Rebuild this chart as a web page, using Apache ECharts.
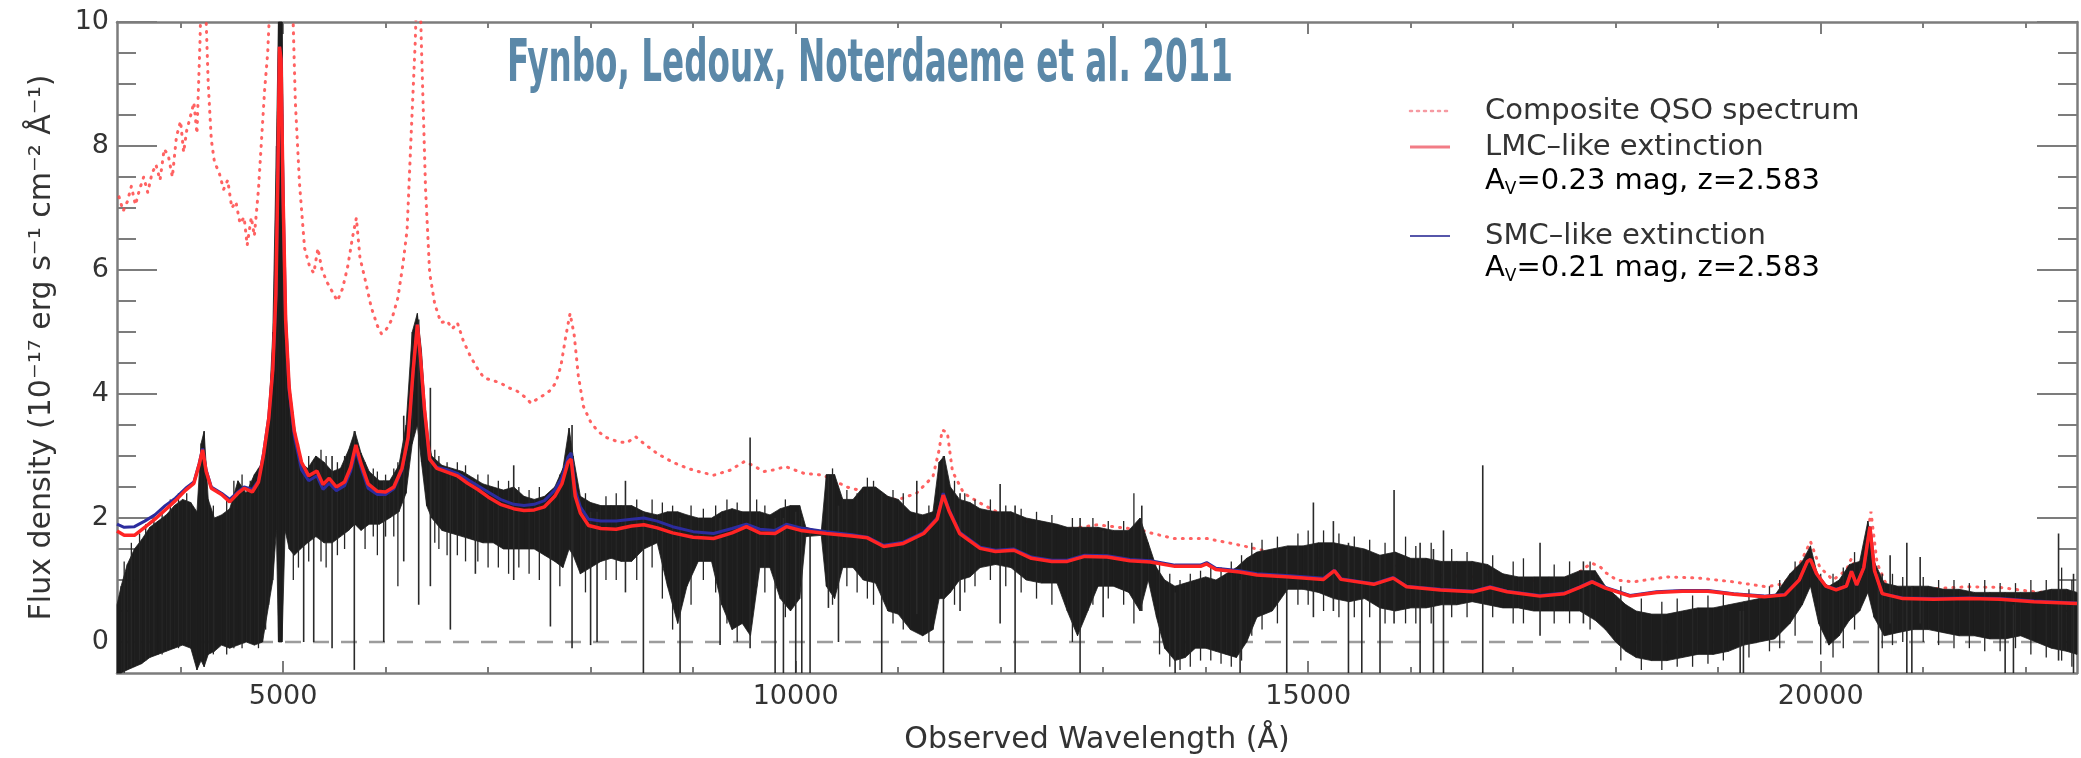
<!DOCTYPE html>
<html>
<head>
<meta charset="utf-8">
<script src="https://cdn.jsdelivr.net/npm/echarts@6/dist/echarts.min.js"></script>
<style>
  html, body { margin: 0; padding: 0; background: #ffffff; }
  #chart { width: 2081px; height: 758px; }
</style>
</head>
<body>
<div id="chart"></div>
<script>
// ---- axis ranges and ticks ----
const xMin = 3380, xMax = 22500;
const yMin = -0.5, yMax = 10;
const xMajorTicks = [5000, 10000, 15000, 20000];
const xMinorTicks = [4000, 6000, 7000, 8000, 9000, 11000, 12000, 13000, 14000, 16000, 17000, 18000, 19000, 21000, 22000];
const yMajorTicks = [0, 2, 4, 6, 8, 10];
const yMinorTicks = [0.5, 1, 1.5, 2.5, 3, 3.5, 4.5, 5, 5.5, 6.5, 7, 7.5, 8.5, 9, 9.5];

// ---- observed spectrum: envelope of the noisy flux (lower / upper edge) ----
const specWave = [3380, 3420, 3480, 3550, 3620, 3700, 3780, 3860, 3940, 4020, 4100, 4160, 4200, 4230, 4270, 4330, 4400, 4480, 4560, 4640, 4720, 4800, 4860, 4900, 4935, 4955, 4990, 5020, 5060, 5110, 5170, 5240, 5320, 5400, 5480, 5560, 5640, 5700, 5760, 5840, 5940, 6040, 6130, 6200, 6260, 6310, 6350, 6400, 6450, 6550, 6650, 6750, 6850, 6950, 7050, 7150, 7250, 7350, 7450, 7550, 7650, 7730, 7790, 7830, 7900, 8000, 8100, 8200, 8300, 8400, 8520, 8650, 8750, 8850, 8940, 9050, 9180, 9280, 9380, 9480, 9560, 9650, 9750, 9850, 9950, 10040, 10100, 10250, 10300, 10380, 10460, 10560, 10660, 10780, 10900, 11000, 11120, 11240, 11340, 11400, 11450, 11510, 11600, 11700, 11800, 11950, 12100, 12250, 12400, 12550, 12650, 12750, 12850, 12950, 13100, 13250, 13360, 13440, 13520, 13600, 13700, 13800, 13900, 14000, 14100, 14200, 14300, 14400, 14500, 14650, 14800, 14950, 15100, 15250, 15400, 15550, 15700, 15850, 16000, 16150, 16300, 16450, 16600, 16750, 16900, 17050, 17200, 17350, 17500, 17650, 17800, 17900, 18000, 18100, 18200, 18350, 18500, 18650, 18800, 18950, 19100, 19250, 19400, 19550, 19700, 19820, 19900, 19980, 20080, 20180, 20280, 20380, 20460, 20520, 20620, 20750, 20900, 21050, 21200, 21350, 21500, 21650, 21800, 21950, 22100, 22250, 22400, 22500];
const specLow = [-0.5, -0.5, -0.45, -0.4, -0.35, -0.25, -0.2, -0.15, -0.1, -0.05, -0.1, -0.45, -0.3, -0.4, -0.2, -0.15, -0.05, -0.1, -0.05, 0.0, -0.05, 0.0, 0.6, 1.0, 1.8, 0.0, 0.0, 1.8, 1.5, 1.4, 1.5, 1.6, 1.7, 1.6, 1.6, 1.7, 1.8, 1.9, 1.8, 1.9, 1.9, 2.0, 2.1, 2.4, 3.2, 3.5, 2.9, 2.2, 2.0, 1.8, 1.75, 1.7, 1.65, 1.6, 1.6, 1.5, 1.5, 1.5, 1.5, 1.4, 1.3, 1.2, 1.5, 1.4, 1.1, 1.2, 1.3, 1.35, 1.3, 1.3, 1.5, 1.6, 0.9, 0.3, 0.9, 1.3, 1.3, 0.6, 0.2, 0.3, 0.1, 1.2, 1.2, 0.7, 0.5, 0.7, 1.7, 1.72, 0.9, 0.7, 1.2, 1.2, 1.0, 0.95, 0.5, 0.45, 0.2, 0.1, 0.2, 0.7, 0.7, 0.8, 1.0, 1.05, 1.2, 1.25, 1.2, 1.0, 0.95, 0.95, 0.5, 0.1, 0.5, 0.9, 0.9, 0.8, 0.5, 1.0, 0.4, -0.1, -0.3, -0.25, -0.1, -0.1, -0.15, -0.2, -0.25, 0.0, 0.4, 0.5, 0.85, 0.85, 0.8, 0.7, 0.65, 0.7, 0.55, 0.5, 0.55, 0.55, 0.6, 0.6, 0.65, 0.6, 0.55, 0.55, 0.5, 0.5, 0.5, 0.5, 0.35, 0.2, 0.0, -0.15, -0.25, -0.3, -0.3, -0.25, -0.2, -0.2, -0.15, -0.05, 0.0, 0.05, 0.3, 0.6, 0.9, 0.3, -0.05, 0.1, 0.35, 0.5, 0.8, 0.4, 0.1, 0.15, 0.2, 0.2, 0.15, 0.1, 0.1, 0.05, 0.05, 0.1, 0.0, -0.1, -0.15, -0.2];
const specHigh = [0.6, 0.9, 1.25, 1.5, 1.65, 1.85, 1.95, 2.05, 2.2, 2.3, 2.25, 2.1, 3.2, 3.4, 2.3, 2.0, 2.05, 2.15, 2.6, 2.4, 2.7, 2.9, 3.6, 5.0, 8.0, 10, 10, 5.4, 4.2, 3.5, 2.9, 2.8, 3.0, 2.9, 2.75, 2.8, 3.1, 3.4, 3.05, 2.75, 2.6, 2.6, 2.85, 3.5, 5.0, 5.3, 4.7, 3.4, 3.0, 2.85, 2.8, 2.75, 2.65, 2.55, 2.5, 2.45, 2.5, 2.35, 2.3, 2.35, 2.5, 2.8, 3.45, 3.0, 2.35, 2.25, 2.2, 2.2, 2.2, 2.2, 2.1, 2.05, 2.1, 2.1, 2.05, 2.0, 2.0, 2.1, 2.15, 2.1, 2.1, 2.1, 2.05, 2.15, 2.2, 2.2, 1.85, 1.78, 2.7, 2.7, 2.3, 2.3, 2.5, 2.5, 2.35, 2.3, 2.1, 2.05, 2.1, 2.9, 3.0, 2.5, 2.3, 2.25, 2.15, 2.1, 2.1, 2.0, 1.95, 1.9, 1.85, 1.85, 1.85, 1.85, 1.8, 1.8, 2.0, 1.6, 1.2, 1.0, 0.9, 0.95, 1.0, 1.05, 1.0, 1.1, 1.2, 1.35, 1.45, 1.5, 1.55, 1.55, 1.6, 1.6, 1.55, 1.5, 1.4, 1.45, 1.35, 1.35, 1.3, 1.3, 1.3, 1.25, 1.1, 1.05, 1.05, 1.05, 1.05, 1.15, 1.15, 0.9, 0.75, 0.6, 0.5, 0.45, 0.45, 0.5, 0.55, 0.55, 0.6, 0.65, 0.7, 0.75, 1.1, 1.3, 1.55, 1.0, 0.9, 1.0, 1.25, 1.3, 1.95, 1.3, 0.95, 0.9, 0.9, 0.9, 0.85, 0.85, 0.8, 0.8, 0.8, 0.8, 0.8, 0.85, 0.85, 0.8];

// ---- strong single-pixel excursions and absorption lines: wavelength, lower end, upper end ----
const lineWave = [5201, 5299, 5478, 5695, 5982, 6177, 6323, 6437, 6632, 6876, 7250, 7608, 7819, 8000, 8063, 8340, 8515, 8873, 9263, 9556, 9800, 9881, 10001, 10060, 10141, 10320, 10418, 10840, 11182, 11442, 11604, 11995, 12141, 12775, 13000, 13377, 13702, 14336, 14791, 15051, 15246, 15393, 15523, 15701, 15838, 16092, 16222, 16320, 16703, 17262, 17685, 19214, 19246, 20563, 20677, 20840, 20889, 20970, 21799, 21880, 22320, 22466];
const lineLow = [0.0, 0.0, -0.1, -0.45, 0.0, 1.3, 0.6, 0.9, 0.2, 1.1, 1.0, 0.25, -0.1, -0.05, 0.0, 0.8, -0.5, -0.5, -0.05, -0.1, -0.5, -0.5, -0.5, -0.5, -0.5, 0.55, 0.0, -0.5, 0.45, -0.5, 0.5, 0.3, -0.5, -0.5, 0.4, 0.5, -0.5, -0.5, -0.5, 0.4, 0.5, -0.5, -0.5, -0.5, 0.3, -0.5, -0.5, -0.5, -0.5, 0.1, 0.3, -0.5, -0.5, -0.5, 0.3, -0.5, -0.5, 0.3, -0.5, -0.5, -0.3, -0.5];
const lineHigh = [2.8, 2.9, 3.0, 3.4, 2.6, 3.65, 5.2, 4.1, 2.8, 2.6, 2.85, 2.3, 3.5, 2.1, 2.1, 2.6, 2.1, 2.0, 2.0, 3.3, 2.0, 2.0, 2.1, 2.0, 1.8, 2.7, 2.2, 2.4, 2.6, 3.0, 2.4, 2.55, 2.2, 2.0, 1.8, 2.2, 0.8, 1.0, 1.5, 2.25, 1.95, 1.6, 1.5, 1.4, 2.45, 1.6, 1.5, 1.8, 2.85, 1.6, 1.3, 0.5, 0.5, 1.1, 1.4, 1.6, 0.9, 1.37, 0.7, 0.6, 1.75, 1.1];

// ---- weaker pixel scatter along the envelope edges ----
const hairWave = [3450, 3520, 3600, 3660, 3740, 3820, 3900, 3980, 4060, 4320, 4450, 4520, 4600, 4680, 4760, 4830, 5100, 5150, 5250, 5370, 5420, 5530, 5600, 5800, 5880, 5920, 6000, 6080, 6120, 6480, 6520, 6600, 6700, 6780, 6900, 7000, 7100, 7200, 7300, 7400, 7500, 7700, 7950, 8150, 8250, 8450, 8600, 8700, 8800, 8980, 9100, 9220, 9330, 9430, 9620, 9700, 9900, 10360, 10500, 10600, 10700, 10760, 10950, 11050, 11300, 11550, 11650, 11750, 11900, 12050, 12200, 12350, 12500, 12700, 12900, 13050, 13200, 13300, 13550, 13650, 13750, 13850, 13950, 14050, 14150, 14250, 14350, 14450, 14550, 14700, 14900, 15000, 15150, 15300, 15450, 15600, 15750, 15950, 16050, 16200, 16400, 16550, 16800, 17000, 17100, 17400, 17550, 17750, 18050, 18250, 18450, 18600, 18750, 18900, 19050, 19300, 19500, 19600, 19750, 20000, 20120, 20220, 20330, 20600, 20700, 20800, 21000, 21150, 21300, 21450, 21600, 21750, 21900, 22050, 22200, 22350, 22450];
const hairLow = [-0.5, -0.4, -0.3, -0.3, -0.2, -0.2, -0.1, -0.1, 0.0, -0.2, -0.2, -0.1, -0.1, 0.0, -0.1, 0.2, 1.0, 1.2, 1.3, 1.3, 1.2, 1.4, 1.5, 1.5, 1.7, 1.4, 1.7, 1.7, 0.9, 1.6, 1.5, 1.4, 1.4, 1.3, 1.3, 1.2, 1.2, 1.1, 1.2, 1.1, 1.0, 0.9, 0.8, 1.0, 1.0, 1.0, 1.2, 0.7, 0.2, 0.6, 1.0, 0.8, 0.3, 0.0, 0.9, 0.8, 0.4, 0.6, 0.9, 0.8, 0.7, 0.6, 0.3, 0.2, 0.0, 0.6, 0.8, 0.9, 1.0, 0.9, 0.8, 0.7, 0.6, 0.0, 0.6, 0.7, 0.6, 0.3, -0.2, -0.4, -0.45, -0.4, -0.3, -0.3, -0.35, -0.4, -0.3, 0.1, 0.2, 0.3, 0.6, 0.6, 0.5, 0.4, 0.4, 0.4, 0.3, 0.3, 0.3, 0.3, 0.4, 0.4, 0.4, 0.3, 0.3, 0.3, 0.3, 0.2, -0.3, -0.45, -0.45, -0.4, -0.4, -0.35, -0.3, -0.25, -0.15, -0.1, 0.1, -0.2, -0.25, -0.1, 0.2, -0.1, -0.05, 0.0, 0.0, -0.05, -0.1, -0.1, -0.15, -0.15, -0.1, -0.2, -0.25, -0.3, -0.4];
const hairHigh = [1.3, 1.6, 1.75, 1.9, 2.0, 2.1, 2.3, 2.4, 2.4, 2.2, 2.3, 2.6, 2.7, 2.6, 2.8, 3.0, 3.7, 3.2, 3.0, 3.1, 3.0, 2.9, 3.0, 2.9, 2.8, 2.75, 2.7, 2.8, 2.9, 3.1, 3.0, 2.9, 2.9, 2.85, 2.7, 2.7, 2.6, 2.6, 2.5, 2.45, 2.5, 2.7, 2.4, 2.35, 2.4, 2.3, 2.3, 2.25, 2.2, 2.2, 2.15, 2.2, 2.3, 2.25, 2.3, 2.2, 2.3, 2.8, 2.45, 2.4, 2.65, 2.6, 2.45, 2.4, 2.2, 2.6, 2.4, 2.3, 2.3, 2.2, 2.15, 2.1, 2.05, 2.0, 2.0, 1.95, 1.95, 2.4, 1.3, 1.1, 1.0, 1.1, 1.15, 1.2, 1.2, 1.3, 1.4, 1.6, 1.65, 1.7, 1.75, 1.8, 1.8, 1.75, 1.7, 1.65, 1.6, 1.7, 1.55, 1.6, 1.5, 1.45, 1.4, 1.3, 1.35, 1.25, 1.3, 1.3, 0.9, 0.7, 0.65, 0.7, 0.75, 0.75, 0.8, 0.85, 0.9, 1.0, 1.3, 1.1, 1.1, 1.2, 1.45, 1.1, 1.1, 1.05, 1.05, 1.0, 1.0, 0.95, 1.0, 0.95, 0.95, 1.0, 1.0, 1.2, 1.0];

// ---- extinguished composite models (LMC and SMC curves share a grid) ----
const modelWave = [3380, 3450, 3550, 3650, 3750, 3850, 3950, 4050, 4130, 4180, 4215, 4250, 4300, 4400, 4480, 4560, 4620, 4700, 4760, 4810, 4860, 4900, 4930, 4950, 4965, 4980, 5000, 5025, 5060, 5110, 5180, 5250, 5330, 5390, 5450, 5520, 5600, 5660, 5710, 5760, 5830, 5920, 6000, 6080, 6160, 6220, 6270, 6310, 6340, 6380, 6430, 6500, 6600, 6700, 6800, 6900, 7000, 7120, 7250, 7350, 7450, 7550, 7650, 7720, 7780, 7810, 7850, 7900, 7980, 8100, 8250, 8400, 8520, 8650, 8800, 9000, 9200, 9380, 9520, 9650, 9800, 9910, 10050, 10300, 10550, 10700, 10860, 11050, 11250, 11380, 11440, 11500, 11600, 11800, 11950, 12130, 12300, 12500, 12650, 12820, 13040, 13260, 13460, 13700, 13950, 14010, 14100, 14330, 14500, 14820, 15150, 15256, 15320, 15640, 15830, 15960, 16290, 16610, 16775, 16940, 17260, 17500, 17650, 17770, 17900, 18140, 18400, 18650, 18900, 19150, 19450, 19650, 19790, 19870, 19900, 19960, 20050, 20150, 20250, 20300, 20350, 20420, 20480, 20525, 20600, 20800, 21100, 21450, 21750, 22080, 22500];
const lmcFlux = [1.79, 1.72, 1.72, 1.85, 1.98, 2.13, 2.28, 2.45, 2.56, 2.85, 3.10, 2.75, 2.48, 2.38, 2.26, 2.40, 2.48, 2.42, 2.58, 3.02, 3.60, 4.40, 5.60, 7.60, 9.60, 9.40, 7.20, 5.20, 4.10, 3.40, 2.90, 2.68, 2.76, 2.54, 2.64, 2.50, 2.58, 2.82, 3.18, 2.88, 2.55, 2.43, 2.42, 2.50, 2.80, 3.30, 4.40, 5.12, 4.60, 3.75, 2.95, 2.80, 2.74, 2.68, 2.56, 2.46, 2.34, 2.22, 2.15, 2.12, 2.13, 2.18, 2.35, 2.55, 2.90, 2.95, 2.35, 2.08, 1.88, 1.83, 1.82, 1.87, 1.89, 1.84, 1.76, 1.69, 1.67, 1.76, 1.86, 1.76, 1.75, 1.86, 1.80, 1.75, 1.71, 1.68, 1.54, 1.59, 1.75, 1.98, 2.37, 2.10, 1.75, 1.51, 1.46, 1.48, 1.35, 1.30, 1.30, 1.38, 1.37, 1.31, 1.29, 1.22, 1.22, 1.26, 1.17, 1.13, 1.08, 1.05, 1.01, 1.15, 1.01, 0.93, 1.03, 0.89, 0.84, 0.81, 0.88, 0.81, 0.74, 0.78, 0.88, 0.97, 0.87, 0.74, 0.80, 0.82, 0.82, 0.77, 0.73, 0.76, 1.00, 1.30, 1.33, 1.10, 0.90, 0.84, 0.90, 1.14, 0.92, 1.20, 1.86, 1.15, 0.78, 0.70, 0.69, 0.70, 0.69, 0.65, 0.62];
const smcFlux = [1.90, 1.85, 1.86, 1.95, 2.05, 2.20, 2.32, 2.48, 2.58, 2.87, 3.12, 2.77, 2.50, 2.40, 2.30, 2.42, 2.50, 2.46, 2.60, 3.05, 3.62, 4.40, 5.60, 7.60, 9.60, 9.40, 7.20, 5.20, 4.05, 3.32, 2.78, 2.60, 2.68, 2.46, 2.56, 2.44, 2.52, 2.76, 3.10, 2.82, 2.48, 2.38, 2.38, 2.47, 2.78, 3.28, 4.40, 5.12, 4.58, 3.74, 2.95, 2.82, 2.78, 2.72, 2.62, 2.52, 2.42, 2.30, 2.22, 2.20, 2.22, 2.28, 2.45, 2.65, 2.98, 3.05, 2.45, 2.18, 1.98, 1.95, 1.95, 1.98, 2.00, 1.95, 1.86, 1.78, 1.75, 1.83, 1.90, 1.82, 1.80, 1.90, 1.84, 1.78, 1.73, 1.69, 1.56, 1.61, 1.77, 2.00, 2.40, 2.12, 1.77, 1.53, 1.48, 1.50, 1.37, 1.32, 1.32, 1.40, 1.39, 1.33, 1.31, 1.24, 1.24, 1.28, 1.19, 1.15, 1.10, 1.07, 1.03, 1.16, 1.02, 0.94, 1.04, 0.90, 0.85, 0.82, 0.89, 0.82, 0.75, 0.79, 0.89, 0.98, 0.88, 0.75, 0.81, 0.83, 0.83, 0.78, 0.74, 0.77, 1.00, 1.30, 1.33, 1.10, 0.90, 0.85, 0.90, 1.14, 0.92, 1.20, 1.86, 1.15, 0.78, 0.71, 0.70, 0.71, 0.70, 0.66, 0.63];

// ---- unreddened composite QSO spectrum ----
const compWave = [3400, 3440, 3480, 3520, 3560, 3600, 3640, 3680, 3720, 3760, 3800, 3840, 3880, 3920, 3960, 4000, 4030, 4060, 4100, 4130, 4160, 4190, 4215, 4240, 4270, 4300, 4330, 4380, 4420, 4460, 4500, 4540, 4580, 4620, 4650, 4690, 4720, 4760, 4790, 4820, 4850, 4880, 4950, 5040, 5090, 5120, 5160, 5210, 5260, 5300, 5340, 5380, 5430, 5480, 5530, 5580, 5630, 5680, 5715, 5750, 5800, 5860, 5920, 5960, 6010, 6060, 6120, 6170, 6210, 6250, 6290, 6320, 6350, 6390, 6430, 6480, 6540, 6600, 6650, 6700, 6760, 6830, 6900, 6960, 7040, 7120, 7200, 7280, 7360, 7420, 7480, 7540, 7600, 7660, 7710, 7760, 7800, 7840, 7880, 7930, 8000, 8070, 8150, 8250, 8350, 8440, 8520, 8650, 8800, 8950, 9050, 9200, 9360, 9500, 9580, 9690, 9800, 9900, 10080, 10270, 10500, 10730, 10990, 11180, 11340, 11400, 11430, 11480, 11530, 11640, 11800, 11960, 12290, 12610, 12940, 13100, 13360, 13460, 13690, 14010, 14340, 14660, 14990, 15250, 15470, 15640, 15830, 15960, 16290, 16610, 16780, 16940, 17260, 17590, 17700, 17770, 17850, 17910, 18010, 18170, 18500, 18820, 19150, 19470, 19640, 19800, 19900, 19990, 20120, 20250, 20300, 20370, 20450, 20490, 20550, 20650, 20780, 21100, 21430, 21750, 22080, 22500];
const compFlux = [7.18, 6.95, 7.10, 7.35, 7.05, 7.30, 7.50, 7.25, 7.55, 7.70, 7.45, 7.95, 7.85, 7.50, 8.15, 8.40, 7.90, 8.25, 8.50, 8.70, 8.20, 9.70, 11.5, 10.5, 9.00, 8.10, 7.75, 7.55, 7.30, 7.45, 7.00, 7.10, 6.75, 6.85, 6.40, 6.85, 6.55, 7.30, 8.10, 8.90, 9.50, 10.6, 16.0, 13.0, 10.5, 8.70, 7.40, 6.35, 6.05, 5.95, 6.35, 6.00, 5.80, 5.65, 5.50, 5.70, 6.05, 6.55, 6.84, 6.20, 5.85, 5.40, 5.10, 4.97, 5.05, 5.20, 5.55, 6.10, 6.65, 8.20, 9.70, 11.5, 9.60, 7.30, 5.95, 5.45, 5.15, 5.18, 5.05, 5.15, 4.85, 4.60, 4.40, 4.26, 4.22, 4.18, 4.10, 4.05, 3.95, 3.85, 3.92, 3.98, 4.05, 4.18, 4.45, 4.95, 5.30, 4.95, 4.30, 3.80, 3.55, 3.40, 3.30, 3.24, 3.21, 3.31, 3.20, 3.04, 2.90, 2.80, 2.75, 2.69, 2.77, 2.91, 2.85, 2.75, 2.78, 2.83, 2.72, 2.69, 2.50, 2.40, 2.29, 2.40, 2.67, 3.10, 3.42, 3.38, 2.75, 2.40, 2.24, 2.10, 1.91, 1.81, 1.89, 1.86, 1.81, 1.76, 1.67, 1.67, 1.56, 1.44, 1.35, 1.36, 1.21, 1.16, 1.24, 1.13, 1.08, 1.05, 1.11, 1.03, 0.98, 1.05, 1.20, 1.27, 1.21, 1.11, 1.00, 0.97, 1.05, 1.03, 0.97, 0.89, 0.94, 1.27, 1.62, 1.21, 1.00, 1.16, 1.35, 1.05, 1.65, 2.10, 1.27, 0.89, 0.84, 0.86, 0.89, 0.88, 0.81, 0.76];

// ---- text ----
const titleText = 'Fynbo, Ledoux, Noterdaeme et al. 2011';
const xTitle = 'Observed Wavelength (Å)';
const yTitle = 'Flux density (10\u207B\u00B9\u2077 erg s\u207B\u00B9 cm\u207B\u00B2 \u00C5\u207B\u00B9)';
const legendNames = ['Composite QSO spectrum', 'LMC\u2013like extinction', 'SMC\u2013like extinction'];
const legendNotes = ['0.23 mag, z=2.583', '0.21 mag, z=2.583'];

// ---- styling ----
const FONT = '"DejaVu Sans", "Liberation Sans", sans-serif';
const TEXT_COLOR = '#333333';
const FRAME_COLOR = '#7c7c7c';
const RED = '#ff2424';
const BLUE = '#2c2c9e';
const COMP = '#ff4646';
const BLACK = '#1d1d1d';

const pairs = (xs, ys) => xs.map((x, i) => [x, ys[i]]);
const triples = (xs, lo, hi) => xs.map((x, i) => [x, lo[i], hi[i]]);

function xAxisDef(position, ticks, len, withLine, withLabels) {
  return {
    type: 'value', position, min: xMin, max: xMax,
    axisLine: { show: withLine, onZero: false, lineStyle: { color: FRAME_COLOR, width: 2.5 } },
    axisTick: { show: true, inside: true, length: len, customValues: ticks, lineStyle: { color: FRAME_COLOR, width: 2 } },
    axisLabel: withLabels ? {
      show: true, customValues: ticks, margin: 10, color: TEXT_COLOR,
      fontFamily: FONT, fontSize: 27, formatter: v => String(v)
    } : { show: false },
    splitLine: { show: false },
    name: withLabels ? xTitle : '', nameLocation: 'middle', nameGap: 52,
    nameTextStyle: { fontFamily: FONT, fontSize: 30, color: TEXT_COLOR }
  };
}

function yAxisDef(position, ticks, len, withLine, withLabels) {
  return {
    type: 'value', position, min: yMin, max: yMax,
    axisLine: { show: withLine, onZero: false, lineStyle: { color: FRAME_COLOR, width: 2.5 } },
    axisTick: { show: true, inside: true, length: len, customValues: ticks, lineStyle: { color: FRAME_COLOR, width: 2 } },
    axisLabel: withLabels ? {
      show: true, customValues: ticks, margin: 8, color: TEXT_COLOR,
      fontFamily: FONT, fontSize: 27
    } : { show: false },
    splitLine: { show: false },
    name: withLabels ? yTitle : '', nameLocation: 'middle', nameRotate: 90, nameGap: 60,
    nameTextStyle: { fontFamily: FONT, fontSize: 30, color: TEXT_COLOR }
  };
}

// filled envelope between consecutive spectrum samples
function renderBand(params, api) {
  const i = params.dataIndex;
  if (i >= specWave.length - 1) return null;
  const pts = [
    api.coord([specWave[i], specLow[i]]),
    api.coord([specWave[i + 1], specLow[i + 1]]),
    api.coord([specWave[i + 1], specHigh[i + 1]]),
    api.coord([specWave[i], specHigh[i]])
  ];
  return { type: 'polygon', shape: { points: pts }, style: { fill: BLACK, stroke: BLACK, lineWidth: 0.8 } };
}

// vertical pixel excursions
function verticalRenderer(width, color) {
  return function (params, api) {
    const a = api.coord([api.value(0), api.value(1)]);
    const b = api.coord([api.value(0), api.value(2)]);
    return { type: 'line', shape: { x1: a[0], y1: a[1], x2: b[0], y2: b[1] }, style: { stroke: color, lineWidth: width } };
  };
}

// title width fitted to a condensed look
const titleFont = 'bold 58px "Liberation Sans Narrow", "DejaVu Sans Condensed", "Liberation Sans", sans-serif';
const measureCtx = document.createElement('canvas').getContext('2d');
measureCtx.font = titleFont;
const titleScale = 726 / measureCtx.measureText(titleText).width;

const legendX = 1410, legendTextX = 1485;
const legendRows = [111, 147, 181, 236, 268];
const legendTextStyle = { font: '29px ' + FONT, fill: TEXT_COLOR, verticalAlign: 'middle', align: 'left' };
const subRich = {
  n: { fontFamily: FONT, fontSize: 29, color: TEXT_COLOR, lineHeight: 34 },
  s: { fontFamily: FONT, fontSize: 17, color: TEXT_COLOR, lineHeight: 16, verticalAlign: 'bottom' }
};

const chart = echarts.init(document.getElementById('chart'), null, { renderer: 'canvas', width: 2081, height: 758 });

chart.setOption({
  backgroundColor: '#ffffff',
  animation: false,
  grid: { left: 117, right: 4, top: 22, bottom: 85, containLabel: false, outerBoundsMode: 'none' },
  xAxis: [
    xAxisDef('bottom', xMajorTicks, 12, true, true),
    xAxisDef('bottom', xMinorTicks, 6, false, false),
    xAxisDef('top', xMajorTicks, 12, true, false),
    xAxisDef('top', xMinorTicks, 6, false, false)
  ],
  yAxis: [
    yAxisDef('left', yMajorTicks, 40, true, true),
    yAxisDef('left', yMinorTicks, 19, false, false),
    yAxisDef('right', yMajorTicks, 40, true, false),
    yAxisDef('right', yMinorTicks, 19, false, false)
  ],
  series: [
    {
      name: 'zero', type: 'line', silent: true, symbol: 'none', z: 1,
      data: [[xMin, 0], [xMax, 0]],
      lineStyle: { color: '#9c9c9c', width: 2.5, type: [16, 12] }
    },
    {
      name: legendNames[0], type: 'line', silent: true, symbol: 'none', z: 2,
      data: pairs(compWave, compFlux),
      lineStyle: { color: COMP, width: 3, type: [1, 7], cap: 'round', opacity: 0.85 }
    },
    {
      name: 'spectrum', type: 'custom', silent: true, z: 3,
      renderItem: renderBand,
      encode: { x: 0, y: [1, 2] },
      data: triples(specWave, specLow, specHigh)
    },
    {
      name: 'scatter pixels', type: 'custom', silent: true, z: 3,
      renderItem: verticalRenderer(1.3, '#262626'),
      encode: { x: 0, y: [1, 2] },
      data: triples(hairWave, hairLow, hairHigh)
    },
    {
      name: 'lines', type: 'custom', silent: true, z: 3,
      renderItem: verticalRenderer(1.6, '#2a2a2a'),
      encode: { x: 0, y: [1, 2] },
      data: triples(lineWave, lineLow, lineHigh)
    },
    {
      name: legendNames[2], type: 'line', silent: true, symbol: 'none', z: 4,
      data: pairs(modelWave, smcFlux),
      lineStyle: { color: BLUE, width: 3 }
    },
    {
      name: legendNames[1], type: 'line', silent: true, symbol: 'none', z: 5,
      data: pairs(modelWave, lmcFlux),
      lineStyle: { color: RED, width: 3.5 }
    }
  ],
  graphic: [
    {
      type: 'text', x: 507, y: 66, scaleX: titleScale, z: 10,
      style: { text: titleText, font: titleFont, fill: '#5b88a8', align: 'left', verticalAlign: 'middle' }
    },
    { type: 'line', shape: { x1: legendX, y1: legendRows[0], x2: legendX + 40, y2: legendRows[0] },
      style: { stroke: '#f69aa2', lineWidth: 2.5, lineDash: [2, 5], lineCap: 'round' } },
    { type: 'text', x: legendTextX, y: legendRows[0], style: Object.assign({ text: legendNames[0] }, legendTextStyle) },
    { type: 'line', shape: { x1: legendX, y1: legendRows[1], x2: legendX + 40, y2: legendRows[1] },
      style: { stroke: '#f27c86', lineWidth: 3 } },
    { type: 'text', x: legendTextX, y: legendRows[1], style: Object.assign({ text: legendNames[1] }, legendTextStyle) },
    { type: 'text', x: legendTextX, y: legendRows[2],
      style: { text: '{n|A}{s|V}{n|=' + legendNotes[0] + '}', rich: subRich, verticalAlign: 'middle', align: 'left' } },
    { type: 'line', shape: { x1: legendX, y1: legendRows[3], x2: legendX + 40, y2: legendRows[3] },
      style: { stroke: '#5656aa', lineWidth: 2 } },
    { type: 'text', x: legendTextX, y: legendRows[3], style: Object.assign({ text: legendNames[2] }, legendTextStyle) },
    { type: 'text', x: legendTextX, y: legendRows[4],
      style: { text: '{n|A}{s|V}{n|=' + legendNotes[1] + '}', rich: subRich, verticalAlign: 'middle', align: 'left' } }
  ]
});
</script>
</body>
</html>
